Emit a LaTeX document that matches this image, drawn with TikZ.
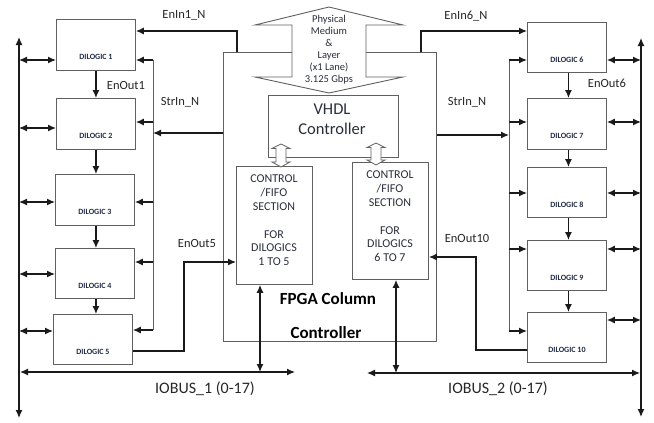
\documentclass[tikz,border=0pt]{standalone}
\usepackage{fontspec}
\setmainfont{Carlito}
\usetikzlibrary{arrows.meta}
\definecolor{navy}{HTML}{1F2A44}
\definecolor{txt}{HTML}{262626}
\definecolor{intxt}{HTML}{2A2E3A}
\definecolor{boxc}{HTML}{606060}
\definecolor{wire}{HTML}{1A1A1A}
\tikzset{
  dbox/.style={draw=boxc, line width=0.9pt, minimum width=79pt, minimum height=50pt, inner sep=0pt, anchor=north west,
    text height=30pt, text depth=0pt, font=\fontsize{8}{9}\selectfont\bfseries, text=navy},
  plainbox/.style={draw=boxc, line width=0.9pt, inner sep=0pt, anchor=north west},
  conn/.style={draw=wire, line width=1.2pt, -{Latex[length=8pt,width=7pt]}},
  dconn/.style={draw=wire, line width=1.2pt, {Latex[length=8pt,width=7pt]}-{Latex[length=8pt,width=7pt]}},
  wireline/.style={draw=wire, line width=1.2pt},
  grayline/.style={draw=boxc, line width=1pt},
  lab/.style={font=\fontsize{12.5}{14}\selectfont, text=txt, inner sep=0pt},
  buslab/.style={font=\fontsize{16}{18}\selectfont, text=txt, inner sep=0pt},
  cbtext/.style={font=\fontsize{12}{13.8}\selectfont, text=intxt, align=center, inner sep=0pt},
  hollow/.style={draw=boxc, line width=0.8pt, fill=white},
}
\begin{document}
\begin{tikzpicture}[x=1pt,y=-1pt]
\useasboundingbox (0,0) rectangle (654,423);

% FPGA big box
\node[plainbox, minimum width=213pt, minimum height=289pt] (fpga) at (223,52) {};
\node[font=\fontsize{17}{19}\selectfont\bfseries, text=black, inner sep=0pt] (fpgat1) at (328,299) {FPGA Column};
\node[font=\fontsize{17}{19}\selectfont\bfseries, text=black, inner sep=0pt] (fpgat2) at (326,333) {Controller};

% Physical medium double arrow
\draw[draw=boxc, line width=0.9pt, fill=white]
  (329,7) -- (403,25) -- (366,25) -- (366,77) -- (403,77) -- (329,93)
  -- (255,77) -- (292,77) -- (292,25) -- (255,25) -- cycle;
\node[font=\fontsize{10.5}{12}\selectfont, text=intxt, align=center, inner sep=0pt] (phys) at (329,50)
  {Physical\\Medium\\\&\\Layer\\(x1 Lane)\\3.125 Gbps};

% VHDL controller
\node[plainbox, minimum width=130pt, minimum height=62pt] (vhdl) at (268,95) {};
\node[font=\fontsize{16.5}{20}\selectfont, text=intxt, align=center, inner sep=0pt] (vhdlt) at (332,119) {VHDL\\Controller};

% control boxes
\node[plainbox, minimum width=76pt, minimum height=118pt] (cb1) at (236,166) {};
\node[plainbox, minimum width=76pt, minimum height=117pt] (cb2) at (352,162) {};
\node[cbtext] (cb1t) at (274,220.5) {CONTROL\\/FIFO\\SECTION\\[13.8pt]FOR\\DILOGICS\\1 TO 5};
\node[cbtext] (cb2t) at (390,216.5) {CONTROL\\/FIFO\\SECTION\\[13.8pt]FOR\\DILOGICS\\6 TO 7};

% hollow small double arrows
\draw[hollow] (281,144) -- (290,148.5) -- (286,148.5) -- (286,162) -- (290,162) -- (281,167)
  -- (272,162) -- (276,162) -- (276,148.5) -- (272,148.5) -- cycle;
\draw[hollow] (376,143) -- (385,147.5) -- (381,147.5) -- (381,160) -- (385,160) -- (376,165)
  -- (367,160) -- (371,160) -- (371,147.5) -- (367,147.5) -- cycle;

% DILOGIC boxes left
\node[dbox, minimum height=51pt] (d1) at (56,19) {DILOGIC 1};
\node[dbox, minimum height=51pt] (d2) at (56,98) {DILOGIC 2};
\node[dbox, minimum height=51pt] (d3) at (55,174) {DILOGIC 3};
\node[dbox] (d4) at (55,248) {DILOGIC 4};
\node[dbox] (d5) at (53,314) {DILOGIC 5};
% DILOGIC boxes right
\node[dbox] (d6) at (527,22) {DILOGIC 6};
\node[dbox, minimum height=51pt] (d7) at (527,98) {DILOGIC 7};
\node[dbox] (d8) at (527,167) {DILOGIC 8};
\node[dbox] (d9) at (527,240) {DILOGIC 9};
\node[dbox] (d10) at (527,312) {DILOGIC 10};

% buses
\coordinate (lbtop) at (19,37);
\coordinate (lbbot) at (19,418);
\coordinate (rbtop) at (641,38);
\coordinate (rbbot) at (641,417);
\draw[dconn] (lbbot) -- (lbtop);
\draw[dconn] (rbbot) -- (rbtop);

% left bus links
\foreach \n/\y in {d1/60, d2/128, d3/202, d4/274, d5/331}{
  \coordinate (lb-\n) at (19,\y);
  \draw[dconn] (lb-\n) -- (lb-\n -| \n.west);
}
% right bus links
\foreach \n/\y in {d6/60, d7/122, d8/193, d9/249, d10/320}{
  \coordinate (rb-\n) at (641,\y);
  \draw[dconn] (\n.east |- rb-\n) -- (rb-\n);
}

% enable chain
\draw[conn] (d1.south) -- (d1.south |- d2.north);
\draw[conn] (d2.south) -- (d2.south |- d3.north);
\draw[conn] ([xshift=1pt]d3.south) -- ([xshift=1pt]d3.south |- d4.north);
\draw[conn] ([xshift=1pt]d4.south) -- ([xshift=1pt]d4.south |- d5.north);
\draw[conn] ([xshift=1.5pt]d6.south) -- ([xshift=1.5pt]d6.south |- d7.north);
\draw[conn] ([xshift=1.5pt]d7.south) -- ([xshift=1.5pt]d7.south |- d8.north);
\draw[conn] ([xshift=1.5pt]d8.south) -- ([xshift=1.5pt]d8.south |- d9.north);
\draw[conn] ([xshift=1.5pt]d9.south) -- ([xshift=1.5pt]d9.south |- d10.north);

% left StrIn distribution
\coordinate (sl-d1) at (153,60);
\coordinate (sl-d2) at (153,122);
\coordinate (sl-d3) at (153,202);
\coordinate (sl-d4) at (153,262);
\coordinate (sl-d5) at (153,330);
\draw[grayline] (sl-d1) -- (sl-d5);
\foreach \n in {d1,d2,d3,d4,d5}{
  \draw[conn] (sl-\n) -- (sl-\n -| \n.east);
}
\coordinate (slin) at (153,133);
\draw[conn] (fpga.west |- slin) -- (slin);

% right StrIn distribution
\coordinate (sr-d6) at (509,60);
\coordinate (sr-d7) at (509,122);
\coordinate (sr-d8) at (509,193);
\coordinate (sr-d9) at (509,249);
\coordinate (sr-d10) at (509,331);
\draw[grayline] (sr-d6) -- (sr-d10);
\foreach \n in {d6,d7,d8,d9,d10}{
  \draw[conn] (sr-\n) -- (sr-\n -| \n.west);
}
\coordinate (srin) at (509,135);
\draw[conn] (fpga.east |- srin) -- (srin);

% EnIn1_N and EnIn6_N
\coordinate (en1a) at (237,52);
\coordinate (en1b) at (237,31);
\draw[wireline, -{Latex[length=8pt,width=7pt]}] (en1a) -- (en1b) -- (en1b -| d1.east);
\coordinate (en6a) at (421,52);
\coordinate (en6b) at (421,31);
\draw[wireline, -{Latex[length=8pt,width=7pt]}] (en6a) -- (en6b) -- (en6b -| d6.west);

% EnOut5
\coordinate (eo5a) at (132,351);
\coordinate (eo5b) at (184,262);
\draw[wireline, -{Latex[length=8pt,width=7pt]}] (d5.east |- eo5a) -| (eo5b) -- (eo5b -| cb1.west);

% EnOut10
\coordinate (eo10a) at (527,350);
\coordinate (eo10b) at (476,257);
\draw[wireline, -{Latex[length=8pt,width=7pt]}] (d10.west |- eo10a) -| (eo10b) -- (eo10b -| cb2.east);

% IOBUS lines
\coordinate (io1l) at (20,372);
\coordinate (io1r) at (295,372);
\coordinate (io2l) at (367,373);
\coordinate (io2r) at (640,373);
\draw[dconn] (io1l) -- (io1r);
\draw[dconn] (io2l) -- (io2r);
\coordinate (cb1d) at (260,372);
\coordinate (cb2d) at (396,373);
\draw[dconn] (cb1.south -| cb1d) -- (cb1d);
\draw[dconn] (cb2.south -| cb2d) -- (cb2d);

% labels
\node[lab] (l-enin1) at (184,15) {EnIn1\_N};
\node[lab] (l-enout1) at (126,85) {EnOut1};
\node[lab] (l-strl) at (180,102) {StrIn\_N};
\node[lab] (l-enout5) at (197,243) {EnOut5};
\node[lab] (l-enin6) at (466,16) {EnIn6\_N};
\node[lab] (l-enout6) at (607,83) {EnOut6};
\node[lab] (l-strr) at (467,102) {StrIn\_N};
\node[lab] (l-enout10) at (467,238) {EnOut10};
\node[buslab] (l-io1) at (205,389) {IOBUS\_1 (0-17)};
\node[buslab] (l-io2) at (498,389) {IOBUS\_2 (0-17)};
\end{tikzpicture}
\end{document}
